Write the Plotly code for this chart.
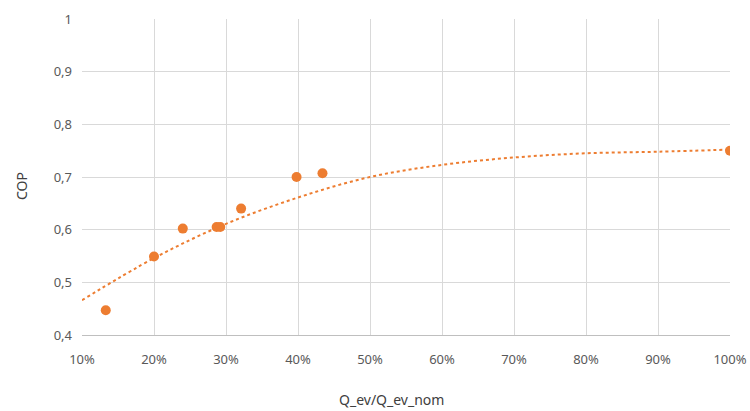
import plotly.graph_objects as go

# Measured points (x as fraction of nominal load, y = COP)
load_ratio = [0.133, 0.200, 0.240, 0.287, 0.292, 0.321, 0.398, 0.434, 1.000]
cop_values = [0.447, 0.549, 0.602, 0.605, 0.605, 0.640, 0.700, 0.707, 0.750]

# Trend line
trend_x = [0.10, 0.20, 0.30, 0.40, 0.50, 0.60, 0.70, 0.80, 0.90, 1.00]
trend_y = [0.466, 0.546, 0.611, 0.661, 0.700, 0.723, 0.737, 0.745, 0.748, 0.752]

x_tickvals = [0.1, 0.2, 0.3, 0.4, 0.5, 0.6, 0.7, 0.8, 0.9, 1.0]
x_ticktext = ["10%", "20%", "30%", "40%", "50%", "60%", "70%", "80%", "90%", "100%"]
y_tickvals = [0.4, 0.5, 0.6, 0.7, 0.8, 0.9, 1.0]
y_ticktext = ["0,4", "0,5", "0,6", "0,7", "0,8", "0,9", "1"]

orange = "#ED7D31"
tick_color = "#595959"
grid_color = "#D9D9D9"

fig = go.Figure()
fig.add_trace(go.Scatter(
    x=trend_x, y=trend_y, mode="lines",
    line=dict(color=orange, width=2, dash="dot", shape="spline", smoothing=1.0),
    showlegend=False, hoverinfo="skip",
))
fig.add_trace(go.Scatter(
    x=load_ratio, y=cop_values, mode="markers",
    marker=dict(color=orange, size=10),
    showlegend=False,
))

fig.update_layout(
    width=750, height=411,
    margin=dict(l=82, r=20, t=19, b=76, autoexpand=False),
    paper_bgcolor="white", plot_bgcolor="white",
    font=dict(family="Noto Sans", size=13, color=tick_color),
    xaxis=dict(
        range=[0.1, 1.0], tickvals=x_tickvals, ticktext=x_ticktext,
        showgrid=True, gridcolor=grid_color, gridwidth=1,
        showline=True, linecolor="#BFBFBF", linewidth=1,
        zeroline=False, ticks="", ticklabelstandoff=12, automargin=False,
        tickfont=dict(size=13, color=tick_color),
    ),
    yaxis=dict(
        range=[0.4, 1.0], tickvals=y_tickvals, ticktext=y_ticktext,
        showgrid=True, gridcolor=grid_color, gridwidth=1,
        showline=False, zeroline=False, ticks="", ticklabelstandoff=9, automargin=False,
        tickfont=dict(size=13, color=tick_color),
    ),
    annotations=[
        dict(text="Q_ev/Q_ev_nom", xref="paper", yref="paper",
             x=(391 - 82) / (730 - 82), y=-(399 - 335) / (335 - 19),
             xanchor="center", yanchor="middle", showarrow=False,
             font=dict(size=14, color="#404040")),
        dict(text="COP", xref="paper", yref="paper",
             x=-(82 - 22) / (730 - 82), y=(335 - 186) / (335 - 19),
             xanchor="center", yanchor="middle", showarrow=False, textangle=-90,
             font=dict(size=14, color="#404040")),
    ],
)

fig.write_html(
    "out.html",
    config={"displayModeBar": False},
    post_script="document.body.style.margin='0px';document.body.style.overflow='hidden';",
)
